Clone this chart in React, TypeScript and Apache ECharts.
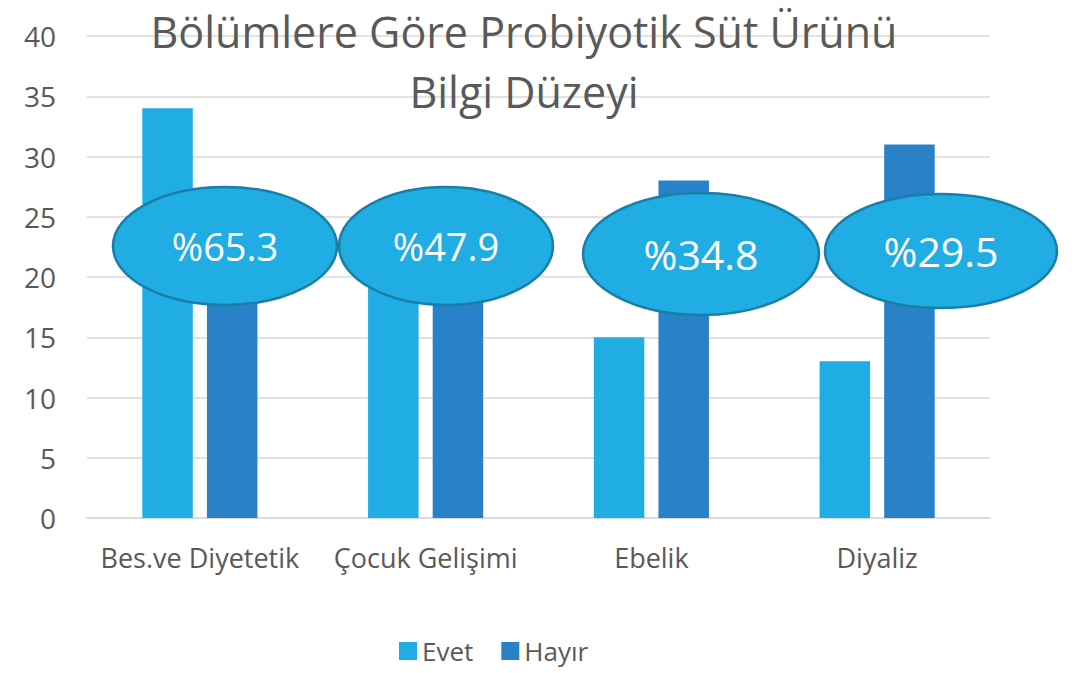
import React, { useEffect, useRef } from "react";
import * as echarts from "echarts";

const categories = ["Bes.ve Diyetetik", "Çocuk Gelişimi", "Ebelik", "Diyaliz"];
const evet = [34, 23, 15, 13];
const hayir = [18, 25, 28, 31];
const percentLabels = ["%65.3", "%47.9", "%34.8", "%29.5"];
const yTicks = [0, 5, 10, 15, 20, 25, 30, 35, 40];

const ellipses = [
  { cx: 225, cy: 246, rx: 112, ry: 59, fs: 38 },
  { cx: 446, cy: 246, rx: 107, ry: 59, fs: 38 },
  { cx: 701, cy: 254, rx: 118, ry: 61, fs: 41 },
  { cx: 941, cy: 251, rx: 116, ry: 57, fs: 41 },
];

export default function App() {
  const ref = useRef<HTMLDivElement>(null);
  useEffect(() => {
    document.body.style.margin = "0";
    const chart = echarts.init(ref.current!, null, { renderer: "svg" });
    const font = "'Open Sans', 'Noto Sans', sans-serif";
    chart.setOption({
      animation: false,
      textStyle: { fontFamily: font },
      grid: { left: 87, right: 86, top: 36, bottom: 155 },
      legend: {
        bottom: 4,
        left: 394,
        itemWidth: 18,
        itemHeight: 18,
        itemGap: 28,
        icon: "rect",
        textStyle: { fontSize: 26, color: "#595959", fontFamily: font },
        data: ["Evet", "Hayır"],
      },
      xAxis: {
        type: "category",
        data: categories,
        axisLine: { lineStyle: { color: "#d9d9d9", width: 1.5 } },
        axisTick: { show: false },
        axisLabel: { fontSize: 27, color: "#595959", margin: 26, interval: 0, fontFamily: font },
      },
      yAxis: {
        type: "value",
        min: yTicks[0],
        max: yTicks[yTicks.length - 1],
        interval: 5,
        axisLine: { show: false },
        axisTick: { show: false },
        splitLine: { lineStyle: { color: "#d9d9d9", width: 1.5 } },
        axisLabel: { fontSize: 28, color: "#595959", margin: 31, fontFamily: font },
      },
      series: [
        {
          name: "Evet",
          type: "bar",
          data: evet,
          itemStyle: { color: "#1fade3" },
          barGap: "28%",
          barCategoryGap: "49%",
        },
        {
          name: "Hayır",
          type: "bar",
          data: hayir,
          itemStyle: { color: "#2982c8" },
        },
      ],
      graphic: [
        {
          type: "text",
          x: 524,
          y: 1,
          z: 100,
          style: {
            text: "Bölümlere Göre Probiyotik Süt Ürünü\nBilgi Düzeyi",
            fill: "#595959",
            fontSize: 43,
            lineHeight: 60,
            fontFamily: font,
            align: "center",
          },
        },
        ...ellipses.flatMap((e, i) => [
          {
            type: "ellipse",
            z: 100,
            shape: { cx: e.cx, cy: e.cy, rx: e.rx, ry: e.ry },
            style: { fill: "#1fade3", stroke: "#1a7fa6", lineWidth: 2.5 },
          },
          {
            type: "text",
            z: 101,
            x: e.cx,
            y: e.cy,
            style: {
              text: percentLabels[i],
              fill: "#ffffff",
              fontSize: e.fs,
              fontFamily: font,
              align: "center",
              verticalAlign: "middle",
            },
          },
        ]),
      ],
    });
    return () => chart.dispose();
  }, []);
  return <div ref={ref} style={{ width: 1076, height: 673 }} />;
}
